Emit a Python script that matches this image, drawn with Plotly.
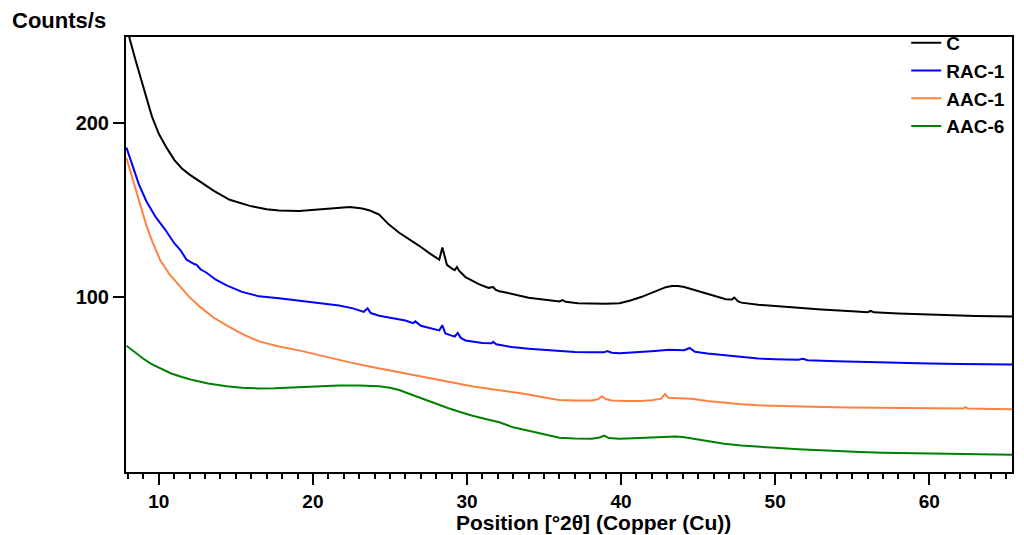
import plotly.graph_objects as go

# ---- data ----
c_x = [7.9, 8.1, 8.5, 9.0, 9.55, 10.0, 10.5, 11.0, 11.5, 12.0, 12.7, 13.6, 14.6, 15.9, 17.0, 17.8,
       19.1, 20.0, 21.1, 22.4, 23.2, 23.7, 24.3, 24.9, 25.6, 26.3, 26.9, 27.6, 28.2, 28.4, 28.55,
       28.7, 29.0, 29.2, 29.35, 29.5, 29.9, 30.3, 30.8, 31.4, 31.7, 31.85, 32.1, 32.6, 33.0, 33.5,
       34.0, 35.0, 36.0, 36.2, 36.4, 37.2, 38.1, 39.0, 39.9, 40.6, 41.3, 41.9, 42.4, 42.9, 43.3,
       43.7, 44.1, 44.6, 45.2, 45.8, 46.3, 46.8, 47.2, 47.35, 47.6, 47.8, 48.9, 50.0, 51.5, 53.0,
       55.0, 56.0, 56.2, 56.4, 58.0, 60.0, 61.2, 63.0, 65.37]
c_y = [258, 249, 236, 221, 204, 194, 186, 179, 174, 170.5, 166.5, 161, 156, 152.5, 150.5, 149.8,
       149.5, 150.2, 151, 151.8, 151, 149.8, 147.5, 142, 137, 133, 129.5, 125, 121.5, 128.5, 123,
       118.5, 116.5, 115.5, 117.3, 115, 111.5, 109.5, 107.3, 105.3, 105.8, 104.3, 103.3, 102.5, 101.8, 100.6,
       99.6, 98.5, 97.5, 98.3, 97.3, 96.5, 96.2, 96.2, 96.5, 98, 100, 102, 104, 105.7, 106.3,
       106.3, 105.8, 104.5, 103, 101.2, 99.8, 98.8, 98.6, 99.7, 97.5, 96.8, 95.6, 94.8, 93.8, 92.8,
       91.8, 91.3, 92, 91.2, 90.5, 89.9, 89.6, 89.1, 88.8]

rac1_x = [7.9, 8.3, 8.7, 9.2, 9.8, 10.4, 11.0, 11.4, 11.8, 12.3, 12.46, 12.7, 13.1, 13.7, 14.4, 15.4,
          16.5, 17.8, 19.1, 20.5, 21.7, 22.6, 23.3, 23.55, 23.75, 24.3, 25.2, 26.0, 26.5, 26.65, 27.0,
          27.6, 28.2, 28.4, 28.6, 29.0, 29.2, 29.4, 29.6, 29.9, 30.5, 31.0, 31.6, 31.7, 31.9, 32.9,
          34.0, 35.1, 36.0, 37.0, 38.0, 38.9, 39.1, 39.4, 39.9, 40.6, 41.3, 42.2, 43.1, 44.1, 44.45,
          44.8, 45.6, 46.7, 47.7, 48.9, 50.0, 51.5, 51.8, 52.1, 54.0, 56.0, 57.9, 60.0, 62.0, 65.37]
rac1_y = [186, 175, 165, 155, 146, 139, 131, 127, 121.5, 119, 118.5, 116, 114, 110, 106.7, 103,
          100.4, 99.3, 98, 96.5, 95.2, 93.5, 91.5, 93.5, 90.8, 89.2, 88, 86.5, 85, 86, 83.5,
          82, 80.8, 83.7, 79, 77.8, 77.3, 79.3, 76.5, 75, 74, 73.5, 73.4, 74.2, 72.8, 71.2,
          70.3, 69.7, 68.8, 68.4, 68.2, 68.2, 68.9, 68, 67.6, 67.9, 68.3, 69, 69.7, 69.4, 70.7,
          68.5, 67.5, 66.4, 65.4, 64.6, 64.2, 63.9, 64.5, 63.6, 63.0, 62.5, 62.2, 61.8, 61.5, 61.2]

aac1_x = [7.9, 8.3, 8.7, 9.2, 9.6, 10.1, 10.7, 11.4, 12.0, 12.7, 13.5, 14.4, 15.4, 16.5, 17.8, 19.1,
          20.7, 22.4, 24.0, 25.6, 27.2, 28.8, 30.4, 32.1, 33.7, 35.3, 36.0, 37.0, 38.1, 38.5, 38.75,
          39.0, 39.4, 40.3, 41.3, 42.0, 42.6, 42.85, 43.05, 43.8, 44.6, 45.6, 46.7, 47.8, 48.9, 50.5,
          52.5, 54.7, 57.0, 59.0, 61.2, 62.2, 62.35, 62.5, 64.0, 65.37]
aac1_y = [180, 168, 156, 141, 131.5, 121, 113, 105.8, 99.8, 94.2, 88.5, 83.7, 78.8, 74.5, 71.5, 69.3,
          65.8, 62.4, 59.5, 56.7, 53.8, 51, 48.5, 46.3, 44.4, 41.8, 40.8, 40.5, 40.5, 41.2, 42.8,
          41.3, 40.5, 40.2, 40.1, 40.6, 41.5, 44.2, 42.1, 41.8, 41.5, 40.2, 39.1, 38.3, 37.7, 37.2,
          36.8, 36.5, 36.2, 36.0, 35.9, 35.8, 36.6, 35.8, 35.6, 35.4]

aac6_x = [7.9, 8.4, 9.0, 9.5, 10.1, 10.8, 11.5, 12.2, 13.2, 14.4, 15.4, 16.5, 17.5, 18.5, 19.5, 20.5,
          21.7, 23.0, 24.3, 25.0, 25.6, 26.2, 26.8, 27.5, 28.2, 28.8, 29.5, 30.3, 31.2, 32.1, 33.0,
          33.8, 34.7, 35.5, 36.0, 37.0, 38.1, 38.6, 38.9, 39.2, 39.9, 40.8, 41.6, 42.4, 43.5, 44.0,
          44.6, 45.6, 46.7, 47.8, 48.9, 50.0, 51.5, 53.5, 55.5, 57.0, 60.1, 62.5, 65.37]
aac6_y = [72, 68.5, 64.5, 61.5, 58.8, 56, 54, 52.2, 50.2, 48.6, 47.8, 47.4, 47.5, 47.9, 48.5, 48.8,
          49.1, 49.1, 48.6, 47.8, 46.5, 44.5, 42.5, 40.3, 37.8, 36, 34, 31.8, 29.8, 27.9, 25,
          23.3, 21.5, 19.8, 19.0, 18.6, 18.4, 19.2, 20.3, 18.8, 18.4, 18.7, 19.0, 19.4, 19.8, 19.5,
          18.7, 17.0, 15.6, 14.6, 13.8, 13.2, 12.4, 11.5, 10.8, 10.4, 9.8, 9.5, 9.2]

series_names = ["C", "RAC-1", "AAC-1", "AAC-6"]
series_colors = ["#000000", "#0000FF", "#FF8040", "#008000"]
x_tickvals = [10, 20, 30, 40, 50, 60]
y_tickvals = [100, 200]

FONT = "Liberation Sans, Arial, sans-serif"

fig = go.Figure()
for name, color, xs, ys in zip(series_names, series_colors,
                               [c_x, rac1_x, aac1_x, aac6_x],
                               [c_y, rac1_y, aac1_y, aac6_y]):
    fig.add_trace(go.Scatter(x=xs, y=ys, mode="lines", name=name,
                             line=dict(color=color, width=2)))

# page body has an 8px margin: the figure is sized/placed to compensate
fig.update_layout(
    width=1016, height=527,
    margin=dict(l=118, r=10, t=29, b=63),
    paper_bgcolor="white", plot_bgcolor="white",
    font=dict(family=FONT, color="black", size=19, weight="bold"),
    legend=dict(x=0.8806, y=1.03, xanchor="left", yanchor="top",
                bgcolor="rgba(0,0,0,0)", itemwidth=30,
                font=dict(family=FONT, size=19, weight="bold", color="black")),
    annotations=[
        dict(text="Counts/s", xref="paper", yref="paper", x=-0.1295, y=1.0368,
             xanchor="left", yanchor="middle", showarrow=False, borderpad=0,
             font=dict(family=FONT, size=22, weight="bold")),
        dict(text="Position [°2θ] (Copper (Cu))", xref="paper", yref="paper",
             x=0.528, y=-0.1156, xanchor="center", yanchor="middle", showarrow=False,
             borderpad=0, font=dict(family=FONT, size=21, weight="bold")),
    ],
)
fig.update_xaxes(range=[7.87, 65.37], tickvals=x_tickvals, ticks="outside", ticklen=11,
                 tickwidth=2, tickcolor="black", showline=True, linewidth=2, linecolor="black",
                 mirror=True, showgrid=False, zeroline=False,
                 tickfont=dict(family=FONT, size=19, weight="bold"),
                 minor=dict(dtick=1, tick0=0, ticks="outside", ticklen=5, tickwidth=2,
                            tickcolor="black", showgrid=False))
fig.update_yaxes(range=[-0.7, 249.7], tickvals=y_tickvals, ticks="outside", ticklen=11,
                 tickwidth=2, tickcolor="black", showline=True, linewidth=2, linecolor="black",
                 mirror=True, showgrid=False, zeroline=False,
                 tickfont=dict(family=FONT, size=20, weight="bold"))

fig.write_html("out.html")
